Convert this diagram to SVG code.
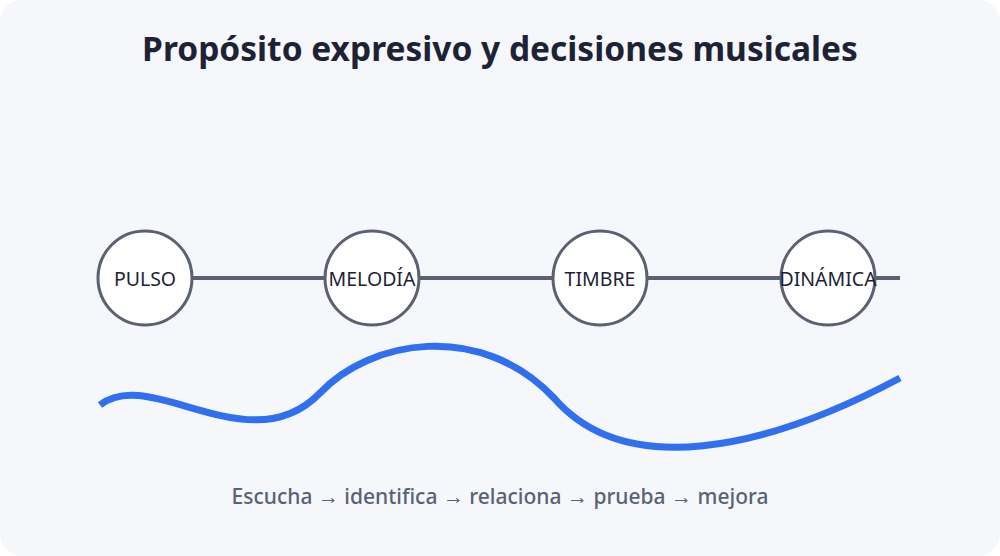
<svg xmlns="http://www.w3.org/2000/svg" width="1000" height="556" viewBox="0 0 1000 556">
<style>
.title{font-family:"Noto Sans","Open Sans",sans-serif;font-weight:700;font-size:33.5px;fill:#1e2235;text-anchor:middle}
.lbl{font-family:"Noto Sans","Open Sans",sans-serif;font-size:19.5px;fill:#1e2235;text-anchor:middle;dominant-baseline:central}
.cap{font-family:"Noto Sans","Open Sans",sans-serif;font-weight:500;font-size:21px;fill:#5a6272;text-anchor:middle}
.node circle{fill:#ffffff;stroke:#5a6272;stroke-width:3}
</style>
<rect width="1000" height="556" fill="#ffffff"/>
<rect x="0" y="0" width="1000" height="556" rx="22" fill="#f5f7fb"/>
<text class="title" x="500" y="61">Propósito expresivo y decisiones musicales</text>
<g id="connectors">
<line x1="190" y1="278" x2="900" y2="278" stroke="#5a6272" stroke-width="4"/>
</g>
<g id="node-pulso" class="node"><circle cx="145" cy="278" r="47"/><text class="lbl" x="145" y="278">PULSO</text></g>
<g id="node-melodia" class="node"><circle cx="372" cy="278" r="47"/><text class="lbl" x="372" y="278">MELODÍA</text></g>
<g id="node-timbre" class="node"><circle cx="600" cy="278" r="47"/><text class="lbl" x="600" y="278">TIMBRE</text></g>
<g id="node-dinamica" class="node"><circle cx="828" cy="278" r="47"/><text class="lbl" x="828" y="278">DINÁMICA</text></g>
<g id="wave">
<path d="M100 405 C150 365 250 465 320 393 C370 340 480 320 554 398 C625 480 765 450 900 378" fill="none" stroke="#3070ee" stroke-width="7"/>
</g>
<text class="cap" x="500" y="504">Escucha → identifica → relaciona → prueba → mejora</text>
</svg>
